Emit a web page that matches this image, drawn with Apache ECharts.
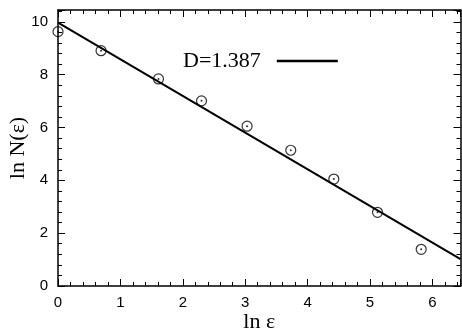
<!DOCTYPE html>
<html>
<head>
<meta charset="utf-8">
<script src="https://cdn.jsdelivr.net/npm/echarts@6/dist/echarts.min.js"></script>
<style>html,body{margin:0;padding:0;background:#fff}#c{width:462px;height:332px}</style>
</head>
<body>
<div id="c"></div>
<script>
var lnEps = [0, 0.69, 1.61, 2.30, 3.03, 3.73, 4.42, 5.12, 5.82];
var lnN = [9.63, 8.91, 7.84, 7.01, 6.05, 5.14, 4.05, 2.79, 1.39];
var fitX = [0, 6.45];
var fitY = [9.97, 1.02];
var fitName = 'D=1.387';
var xTicks = [0, 1, 2, 3, 4, 5, 6];
var yTicks = [0, 2, 4, 6, 8, 10];

var X_MIN = 0, X_MAX = 6.45, Y_MIN = 0, Y_MAX = 10.45;
var chart = echarts.init(document.getElementById('c'), null, {renderer: 'canvas'});

function xAx(pos, interval, len, showLine, showLabel) {
  return {
    type: 'value', position: pos, min: X_MIN, max: X_MAX, interval: interval,
    axisLine: {show: showLine, onZero: false, lineStyle: {color: '#000', width: 1.5}},
    axisTick: {show: true, inside: true, length: len, lineStyle: {color: '#000', width: 1}},
    axisLabel: {show: showLabel, color: '#000', fontFamily: 'Liberation Sans', fontSize: 15, margin: 9,
      formatter: function (v) { return xTicks.indexOf(v) >= 0 ? String(v) : ''; }},
    splitLine: {show: false}
  };
}
function yAx(pos, interval, len, showLine, showLabel) {
  return {
    type: 'value', position: pos, min: Y_MIN, max: Y_MAX, interval: interval,
    axisLine: {show: showLine, onZero: false, lineStyle: {color: '#000', width: 1.5}},
    axisTick: {show: true, inside: true, length: len, lineStyle: {color: '#000', width: 1}},
    axisLabel: {show: showLabel, color: '#000', fontFamily: 'Liberation Sans', fontSize: 15, margin: 10,
      formatter: function (v) { return yTicks.indexOf(v) >= 0 ? String(v) : ''; }},
    splitLine: {show: false}
  };
}

var xAxes = [
  xAx('bottom', 1, 7, true, true),
  xAx('bottom', 0.2, 4, false, false),
  xAx('top', 1, 7, true, false),
  xAx('top', 0.2, 4, false, false)
];
xAxes[0].name = 'ln ε';
xAxes[0].nameLocation = 'middle';
xAxes[0].nameGap = 25;
xAxes[0].nameMoveOverlap = false;
xAxes[0].nameTextStyle = {fontFamily: 'Liberation Serif', fontSize: 22, color: '#000'};

var yAxes = [
  yAx('left', 2, 7, true, true),
  yAx('left', 0.4, 4, false, false),
  yAx('right', 2, 7, true, false),
  yAx('right', 0.4, 4, false, false)
];
yAxes[0].name = 'ln N(ε)';
yAxes[0].nameLocation = 'middle';
yAxes[0].nameGap = 29;
yAxes[0].nameMoveOverlap = false;
yAxes[0].nameTextStyle = {fontFamily: 'Liberation Serif', fontSize: 22, color: '#000'};

var pts = lnEps.map(function (x, i) { return [x, lnN[i]]; });
var fit = fitX.map(function (x, i) { return [x, fitY[i]]; });

chart.setOption({
  animation: false,
  backgroundColor: '#fff',
  grid: {left: 58, right: 1.5, top: 10, bottom: 46, containLabel: false, outerBoundsMode: 'none'},
  legend: {
    data: [fitName], left: 178, top: 45, align: 'right',
    icon: 'rect', itemWidth: 61, itemHeight: 2.5,
    formatter: function (n) { return n + '  '; },
    textStyle: {fontFamily: 'Liberation Serif', fontSize: 22, color: '#000'}
  },
  xAxis: xAxes,
  yAxis: yAxes,
  series: [
    {name: fitName, type: 'line', data: fit, showSymbol: false, clip: false,
      lineStyle: {color: '#000', width: 2}, itemStyle: {color: '#000'}},
    {name: 'pts', type: 'scatter', data: pts, symbol: 'circle', symbolSize: 10, clip: false,
      itemStyle: {color: 'rgba(255,255,255,0)', borderColor: '#000', borderWidth: 1.2}},
    {name: 'dots', type: 'scatter', data: pts, symbol: 'circle', symbolSize: 2, clip: false,
      itemStyle: {color: '#000'}}
  ]
});
</script>
</body>
</html>
